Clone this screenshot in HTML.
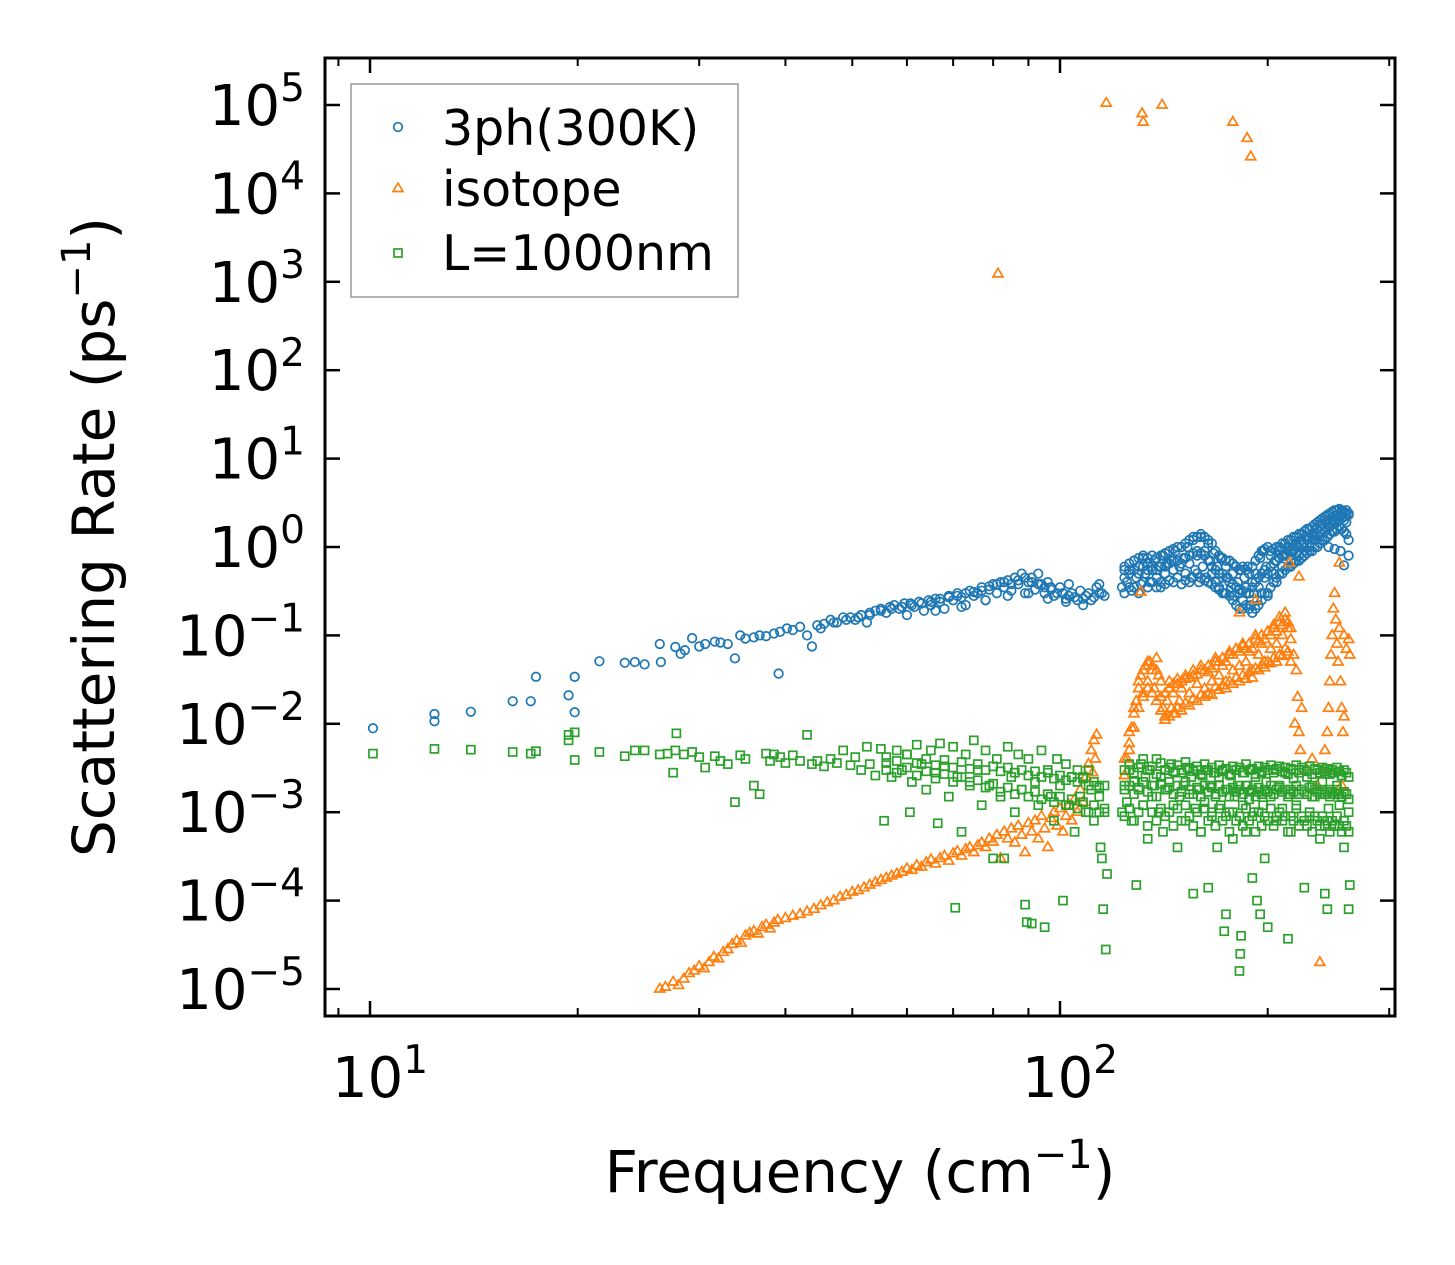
<!DOCTYPE html>
<html><head><meta charset="utf-8"><style>
html,body{margin:0;padding:0;background:#fff}
svg{display:block;font-family:"DejaVu Sans","Liberation Sans",sans-serif}
</style></head><body>
<svg id="chart" width="1455" height="1265" viewBox="0 0 1455 1265" xmlns="http://www.w3.org/2000/svg">
<rect width="1455" height="1265" fill="#fff"/>
<g id="marks"></g>
<g id="axes"></g>
<g id="legend">
<rect x="351" y="84" width="387" height="213" fill="#fff" fill-opacity="0.8" stroke="#999" stroke-width="1.5"/>
<circle cx="398" cy="127" r="4.3" fill="none" stroke="#1f77b4" stroke-width="1.7"/>
<text x="442" y="145" font-size="49">3ph(300K)</text>
<polygon points="398,183 403,191.5 393,191.5" fill="none" stroke="#ff7f0e" stroke-width="1.7"/>
<text x="442" y="206" font-size="49">isotope</text>
<rect x="394" y="249" width="8" height="8" fill="none" stroke="#2ca02c" stroke-width="1.7"/>
<text x="442" y="270" font-size="49">L=1000nm</text>
</g>
</svg>
<script>
const blueF=[10.1,12.4,12.4,14,16.1,17.1,17.4,19.4,19.8,19.8,21.5,23.4,24.2,25,26.3,26.4,27.7,28.2,28.6,29.3,30,30.6,31.6,32.2,33,33.8,34.4,35,36,36.7,37.5,38.5,39.1,39.3,40.2,41,42,43,43.7,44.5,45.5,46.5,47.5,48.5,49.7,50.5,51.5,52.5,53,54,55,56,56.7,57.5,58.5,59.5,60.7,61.5,62.5,63.5,64.5,65,66,67,68,69,70,71,72,73,74,75,76,77,78,79,80,81,82,83,84,85,86,87,88,89,90,91,92,93,94,95,96,97,98,100,101,102,103,104,106,107,109,110,112,113,114,115,116,
123,124,125,126,127,128,129,130,131,132,133,134,135,136,137,138,139,140,141,142,143,144,145,146,147,148,149,150,151,152,153,154,155,156,157,158,159,160,161,162,163,164,165,166,167,168,169,170,171,172,173,174,175,176,177,178,179,180,181,182,183,184,185,186,187,188,189,190,191,192,193,194,195,196,197,198,199,200,202,204,205,206,208,210,212,214,216,218,220,222,224,226,228,230,232,234,236,238,240,242,244,246,248,250,252,254,256,258,260,262,255,258,250,245,
45,47,49,51,53,55,57,59,61,63,65,67,69,71,73,75,77,79,81,83,85,87,89,91,93,95,97,99,101,103,105,108,111,114,60,66,72,78,84,90,96,102,108];
const blueV=[.0089,.0129,.0107,.0137,.018,.018,.034,.021,.034,.0135,.051,.049,.05,.047,.08,.05,.074,.062,.068,.093,.075,.08,.085,.083,.08,.055,.1,.092,.095,.1,.098,.105,.037,.11,.12,.115,.125,.1,.075,.13,.135,.15,.14,.16,.16,.15,.17,.14,.18,.19,.2,.18,.21,.22,.2,.23,.23,.21,.24,.19,.25,.22,.26,.24,.2,.28,.25,.3,.27,.22,.32,.28,.3,.35,.25,.33,.38,.3,.4,.35,.42,.32,.45,.38,.5,.3,.4,.45,.33,.5,.38,.3,.4,.35,.28,.35,.3,.26,.38,.3,.25,.32,.28,.3,.27,.35,.38,.3,.28,
.35,.6,.4,.55,.32,.7,.45,.6,.38,.75,.5,.65,.4,.55,.7,.45,.6,.35,.8,.5,.65,.42,.7,.55,.9,.45,.6,.38,.75,.5,1.0,.65,.45,1.2,.55,.8,.4,1.3,.6,.9,.45,1.1,.7,.5,.85,.4,.6,.35,.75,.5,.3,.6,.45,.7,.35,.5,.28,.6,.4,.3,.55,.25,.45,.35,.6,.3,.22,.4,.3,.5,.25,.35,.75,.3,.9,.45,.6,.3,.8,.5,.7,.4,.9,.6,.85,1.0,.7,.9,1.1,.8,1.2,.9,1.3,1.0,1.4,1.2,1.6,1.3,1.8,1.5,2.0,1.7,2.2,1.9,2.3,2.0,2.5,2.2,2.6,2.4,.9,.62,.95,1.0,
.12,.14,.15,.16,.17,.19,.2,.21,.22,.23,.24,.26,.27,.28,.3,.31,.32,.36,.38,.4,.38,.42,.45,.4,.38,.35,.33,.3,.3,.28,.27,.26,.25,.3,.17,.19,.21,.25,.28,.3,.26,.24,.22];
const band2F=[124,126,128,130,132,134,136,138,140,142,144,146,148,150,152,154,156,158,160,162,164,166,168,170,172,174,176,178,180,182,184,186,188,190,192,194,196,198,200,202,204,206,208,210,212,214,216,218,220,222,224,226,228,230,232,234,236,238,240,242,244,246,248,250,252,254,256,258,260,262];
const blueUpperV=[.55,.65,.7,.75,.8,.75,.8,.75,.8,.85,.9,.95,1.0,1.0,1.1,1.2,1.3,1.3,1.4,1.3,1.2,1.1,.9,.8,.75,.7,.7,.65,.6,.55,.6,.55,.5,.6,.7,.8,.9,.95,1.0,.9,.95,1.0,1.0,1.1,1.1,1.2,1.2,1.3,1.3,1.4,1.4,1.5,1.6,1.6,1.7,1.8,1.9,2.0,2.1,2.2,2.3,2.4,2.5,2.6,2.6,2.7,2.6,2.5,2.4,2.3];
const blueMidV=[.45,.5,.55,.5,.6,.55,.6,.55,.6,.6,.65,.7,.7,.65,.75,.8,.85,.9,.85,.8,.7,.6,.55,.5,.45,.45,.4,.38,.35,.33,.32,.3,.3,.35,.4,.45,.5,.55,.5,.6,.65,.7,.75,.8,.8,.9,.9,.95,1.0,1.0,1.05,1.1,1.2,1.25,1.3,1.35,1.4,1.5,1.6,1.7,1.8,1.9,2.0,2.0,2.1,2.2,2.1,2.0,1.9,1.2];
const blueLowerV=[.3,.35,.35,.3,.4,.35,.4,.35,.4,.38,.42,.4,.45,.38,.42,.4,.45,.5,.45,.42,.4,.38,.35,.33,.3,.3,.28,.25,.22,.2,.2,.22,.2,.18,.2,.22,.25,.3,.28,.35,.4,.45,.5,.5,.55,.6,.6,.65,.7,.7,.75,.8,.85,.9,.9,1.0,1.0,1.1,1.2,1.2,1.3,1.4,1.5,1.5,1.6,1.7,1.6,1.5,1.4,.8];
const greenUpperV=[3e-3,3.5e-3,2.8e-3,3.2e-3,4e-3,3e-3,3.3e-3,2.7e-3,3.6e-3,3e-3,3.2e-3,2.9e-3,3.4e-3,2.8e-3,3.7e-3,3.1e-3,2.9e-3,3.3e-3,2.7e-3,3.5e-3,3e-3,3.2e-3,2.8e-3,3.4e-3,2.9e-3,3.1e-3,2.7e-3,3.3e-3,3e-3,3.2e-3,2.8e-3,3.5e-3,3e-3,3.1e-3,2.7e-3,3.3e-3,2.9e-3,3.2e-3,3e-3,3.4e-3,2.8e-3,3.1e-3,3.3e-3,2.9e-3,3.2e-3,2.7e-3,3.1e-3,3e-3,3.4e-3,2.8e-3,3.2e-3,3e-3,2.9e-3,3.3e-3,2.7e-3,3.1e-3,3e-3,2.8e-3,3.2e-3,2.9e-3,3.1e-3,2.7e-3,3e-3,2.8e-3,3.2e-3,2.9e-3,2.6e-3,3e-3,2.8e-3,2.5e-3];
const greenMidV=[1.8e-3,2e-3,1.6e-3,1.9e-3,2.2e-3,1.7e-3,2e-3,1.5e-3,2.1e-3,1.8e-3,1.9e-3,1.6e-3,2e-3,1.7e-3,2.2e-3,1.8e-3,1.6e-3,1.9e-3,1.5e-3,2e-3,1.7e-3,1.9e-3,1.6e-3,2e-3,1.7e-3,1.8e-3,1.5e-3,1.9e-3,1.7e-3,1.8e-3,1.6e-3,2e-3,1.7e-3,1.8e-3,1.5e-3,1.9e-3,1.6e-3,1.8e-3,1.7e-3,2e-3,1.6e-3,1.8e-3,1.9e-3,1.7e-3,1.8e-3,1.5e-3,1.8e-3,1.7e-3,2e-3,1.6e-3,1.8e-3,1.7e-3,1.6e-3,1.9e-3,1.5e-3,1.8e-3,1.7e-3,1.6e-3,1.8e-3,1.6e-3,1.7e-3,1.5e-3,1.7e-3,1.6e-3,1.8e-3,1.6e-3,1.5e-3,1.7e-3,1.6e-3,1.4e-3];
const greenLowV=[9e-4,1.1e-3,8e-4,1e-3,1.2e-3,7e-4,1e-3,8e-4,1.1e-3,9e-4,1e-3,7e-4,1.1e-3,8e-4,1.2e-3,9e-4,7e-4,1e-3,6e-4,1.1e-3,8e-4,1e-3,7e-4,1.1e-3,8e-4,9e-4,6e-4,1e-3,8e-4,9e-4,7e-4,1.1e-3,8e-4,9e-4,6e-4,1e-3,7e-4,9e-4,8e-4,1.1e-3,7e-4,9e-4,1e-3,8e-4,9e-4,6e-4,9e-4,8e-4,1.1e-3,7e-4,9e-4,8e-4,7e-4,1e-3,6e-4,9e-4,8e-4,7e-4,9e-4,7e-4,8e-4,6e-4,8e-4,7e-4,9e-4,7e-4,6e-4,8e-4,7e-4,6e-4];
const greenBand1F=[56,58,60,62,64,66,68,70,72,74,76,78,80,82,84,86,88,90,92,94,96,98,100,102,104,106,108,110,112,114,116];
const greenBand1UpperV=[4.2e-3,3.8e-3,4.5e-3,3.6e-3,4e-3,3.4e-3,3.9e-3,3.2e-3,3.7e-3,3.1e-3,3.5e-3,3e-3,3.3e-3,2.9e-3,3.2e-3,2.8e-3,3e-3,2.6e-3,2.9e-3,2.5e-3,2.8e-3,2.4e-3,2.6e-3,2.3e-3,2.5e-3,2.2e-3,2.4e-3,2e-3,2.2e-3,1.9e-3,2e-3];
const greenBand1LowerV=[3e-3,2.8e-3,3.2e-3,2.6e-3,2.9e-3,2.4e-3,2.7e-3,2.2e-3,2.5e-3,2e-3,2.3e-3,1.9e-3,2.1e-3,1.7e-3,1.9e-3,1.6e-3,1.8e-3,1.5e-3,1.7e-3,1.4e-3,1.6e-3,1.3e-3,1.5e-3,1.2e-3,1.4e-3,1.1e-3,1.3e-3,1e-3,1.2e-3,1e-3,1.1e-3];
const orangeBandF=[124,126,128,130,132,134,136,138,140,142,144,146,148,150,152,154,156,158,160,162,164,166,168,170,172,174,176,178,180,182,184,186,188,190,192,194,196,198,200,202,204,206,208,210,212,214,216];
const orangeUpperV=[4e-3,8e-3,1.5e-2,3e-2,4e-2,5e-2,4.5e-2,4e-2,3e-2,2.2e-2,3e-2,2.8e-2,3.2e-2,3e-2,3.5e-2,3.3e-2,4e-2,3.6e-2,4.5e-2,4e-2,4.5e-2,4.2e-2,5.5e-2,5e-2,5.5e-2,5e-2,6.5e-2,6e-2,7e-2,6.5e-2,7.5e-2,7e-2,8e-2,7e-2,9e-2,8.5e-2,1e-1,9e-2,1.1e-1,1e-1,1.2e-1,1.1e-1,1.4e-1,1.3e-1,1.5e-1,1.4e-1,1.2e-1];
const orangeLowerV=[2.6e-3,5e-3,9e-3,1.5e-2,2e-2,2.5e-2,2.2e-2,1.8e-2,1.4e-2,1.1e-2,1.2e-2,1.3e-2,1.5e-2,1.4e-2,1.7e-2,1.6e-2,1.9e-2,1.8e-2,2.1e-2,2e-2,2.2e-2,2.1e-2,2.6e-2,2.4e-2,2.7e-2,2.5e-2,3e-2,2.8e-2,3.3e-2,3e-2,3.5e-2,3.2e-2,3.8e-2,3.3e-2,4.2e-2,4e-2,4.6e-2,4.3e-2,5e-2,4.8e-2,5.5e-2,5e-2,6e-2,5.8e-2,7e-2,6.5e-2,5e-2];
const orangeF=[81.3,116.7,131.5,132,140.6,178,186.7,189,131,182,192,215,222,254,
26.3,26.8,27.5,28,28.5,29,29.5,30,30.5,31,31.5,32,32.5,33,33.5,34,34.5,35,35.5,36,36.5,37,37.5,38,38.5,39,40,41,42,43,44,45,46,47,48,49,50,51,52,53,54,55,56,57,58,59,60,61,62,63,64,65,66,67,68,69,70,71,72,73,74,75,76,77,78,79,80,81,82,83,84,85,86,87,88,89,90,91,92,93,94,95,96,97,98,99,100,101,102,103,104,105,106,107,108,109,110,111,112,113,112.5,111.5,
124,125,126,127,128,129,130,131,132,133,134,135,136,137,138,139,140,141,142,143,144,145,146,147,148,149,150,152,154,156,158,160,162,164,166,168,170,172,174,176,178,180,182,184,186,188,190,192,194,196,198,200,202,204,206,208,210,212,214,216,218,219,220,221,222,223,224,228,232,236,238,240,242,244,245,246,247,248,249,250,251,252,253,254,255,256,257,258,260,262,263,258,256];
const orangeV=[1230,1.05e5,8e4,6.4e4,1.0e5,6.4e4,4.2e4,2.6e4,.31,.18,.25,.66,.46,.66,
1e-5,1.05e-5,1.2e-5,1.1e-5,1.3e-5,1.5e-5,1.6e-5,1.8e-5,1.7e-5,2e-5,2.3e-5,2.2e-5,2.6e-5,2.8e-5,3.2e-5,3.5e-5,3.3e-5,4e-5,4.3e-5,4.5e-5,4.2e-5,5e-5,5.3e-5,4.8e-5,5.6e-5,6e-5,6.3e-5,6.7e-5,7e-5,7.5e-5,8e-5,8.8e-5,9.5e-5,1e-4,1.1e-4,1.15e-4,1.25e-4,1.3e-4,1.4e-4,1.5e-4,1.6e-4,1.7e-4,1.8e-4,1.9e-4,2e-4,2.1e-4,2.3e-4,2.2e-4,2.5e-4,2.4e-4,2.7e-4,2.9e-4,2.6e-4,3e-4,3.2e-4,2.8e-4,3.4e-4,3.6e-4,3.2e-4,3.8e-4,4e-4,3.5e-4,4.2e-4,4.5e-4,4e-4,5e-4,4.6e-4,5.5e-4,3e-4,6e-4,5e-4,6.5e-4,4.5e-4,7e-4,5.5e-4,3.5e-4,7.5e-4,6e-4,8e-4,5e-4,9e-4,6.5e-4,4e-4,8.5e-4,1e-3,7e-4,1.1e-3,6e-4,9e-4,1.2e-3,8e-4,1.4e-3,1e-3,1.8e-3,1.3e-3,2.5e-3,3.5e-3,5e-3,6.5e-3,7.5e-3,4e-3,2.8e-3,
2.6e-3,4e-3,6e-3,9e-3,1.3e-2,1.8e-2,2.5e-2,3.5e-2,2.2e-2,4.5e-2,3e-2,5e-2,4e-2,2.5e-2,5.5e-2,3.5e-2,2e-2,1.5e-2,1.2e-2,1.8e-2,2.5e-2,1.5e-2,2.2e-2,1.3e-2,2.8e-2,1.8e-2,2.5e-2,3.2e-2,2.2e-2,3.5e-2,2.8e-2,4e-2,2.5e-2,3.8e-2,3e-2,5e-2,3.5e-2,4.5e-2,3e-2,6e-2,4e-2,7e-2,4.5e-2,8e-2,5e-2,6.5e-2,4e-2,1e-1,6e-2,8e-2,5e-2,1.1e-1,7e-2,1.3e-1,8e-2,1.6e-1,1e-1,1.8e-1,1.2e-1,9e-2,6e-2,1e-2,4e-2,2e-2,8e-3,5e-3,1.5e-2,3e-3,4e-3,2e-3,2e-5,3e-3,5e-3,8e-3,1.5e-2,3e-2,6e-2,1e-1,2e-1,3e-1,1.5e-1,8e-2,5e-2,1.2e-1,3e-2,1.5e-2,8e-3,1e-1,7e-2,9e-2,6e-2,1.2e-2,2e-3];
const greenF=[10.1,12.4,14,16.1,17.1,17.4,19.4,19.4,19.8,19.8,21.5,23.4,24.2,25,26.3,27,27.7,27.8,27.5,28.5,29.3,30,30.6,31.6,32.2,33,33.8,34.4,35,36,36.7,37.5,38,38.5,39.3,40,41,42,43,43.7,44.5,45.5,46.5,47.5,48.5,49.7,50.5,51.5,52.5,53,54,55,55.6,56,57,58,59,60,60.6,61,62,63,64,65,66,66.5,67,68,69,70,70.5,71,72,73,74,75,76,77,78,79,80,81,82,83,84,85,86,87,88,89,89.5,90,91,92,93,94,95,96,97,98,99,100,101,102,103,104,105,106,107,108,109,110,111,112,113,114,115,115.5,116,116.5,117,114.5,
123,124,125,126,127,128,129,130,131,132,133,134,135,136,137,138,139,140,141,142,143,144,145,146,147,148,149,150,151,152,153,154,155,156,157,158,159,160,161,162,163,164,165,166,167,168,169,170,171,172,173,174,175,176,177,178,179,180,181,182,182.5,183,184,185,186,187,188,189,190,191,192,193,194,195,196,197,198,199,200,202,204,206,208,210,212,214,215,216,218,220,222,224,226,228,230,232,234,236,238,240,242,244,245,246,248,250,252,254,256,258,260,262,263,262];
const greenV=[4.6e-3,5.2e-3,5.1e-3,4.8e-3,4.6e-3,4.9e-3,7.5e-3,6.5e-3,8e-3,3.9e-3,4.8e-3,4.3e-3,5e-3,5e-3,4.5e-3,4.6e-3,5e-3,7.8e-3,2.8e-3,4.5e-3,4.8e-3,4.2e-3,3.2e-3,4.3e-3,3.8e-3,3.5e-3,1.3e-3,4.4e-3,4e-3,2e-3,1.6e-3,4.6e-3,3.8e-3,4.5e-3,4.2e-3,3.6e-3,4.4e-3,3.8e-3,7.5e-3,3.5e-3,3.8e-3,3.3e-3,4e-3,3.6e-3,5e-3,3.4e-3,4.2e-3,3e-3,5.5e-3,3.5e-3,2.6e-3,5.2e-3,8e-4,3.6e-3,2.5e-3,5e-3,3e-3,4.5e-3,1e-3,2.2e-3,5.8e-3,3.5e-3,1.8e-3,5e-3,2.8e-3,7.5e-4,6e-3,3.3e-3,1.5e-3,5.5e-3,8.3e-5,2.5e-3,6e-4,4.5e-3,2.2e-3,6.5e-3,3e-3,1.2e-3,5e-3,2e-3,3e-4,4e-3,1.5e-3,3e-4,5.5e-3,2.5e-3,1e-3,4.5e-3,1.8e-3,9e-5,5.7e-5,4e-3,5.5e-5,2.2e-3,1.2e-3,5e-3,5e-5,3e-3,1.5e-3,8e-4,4e-3,2e-3,1e-4,3.5e-3,1.2e-3,2.5e-3,6e-4,3e-3,1.5e-3,2.5e-3,1e-3,3e-3,1.8e-3,8e-4,2e-3,1.5e-3,3e-4,8e-5,1e-3,2.8e-5,2e-4,4e-4,
1e-3,2e-3,1.3e-3,3e-3,8e-4,2.2e-3,1.5e-4,1.8e-3,3.5e-3,1.2e-3,2.5e-3,5e-4,3e-3,1.5e-3,2e-3,4e-3,1e-3,2.5e-3,6e-4,3e-3,1.8e-3,2.2e-3,3.5e-3,1.2e-3,2.8e-3,4e-4,1.5e-3,3e-3,2e-3,8e-4,3.2e-3,1.6e-3,2.5e-3,1.2e-4,1.1e-3,3e-3,1.8e-3,6e-4,2.6e-3,1.3e-3,3e-3,1.4e-4,2e-3,9e-4,2.8e-3,1.5e-3,4e-4,2.5e-3,1.2e-3,3e-3,4.5e-5,7e-5,1.8e-3,1e-3,2.6e-3,5e-4,1.5e-3,3e-3,2e-3,1.6e-5,2.5e-5,4e-5,1.2e-3,2.8e-3,6e-4,2e-3,1.4e-3,3e-3,1.8e-4,1e-3,2.5e-3,1e-4,1.7e-3,7e-5,2.8e-3,1.2e-3,3e-4,2.2e-3,5e-5,1.5e-3,3e-3,8e-4,2e-3,1.1e-3,2.8e-3,3.7e-5,1.6e-3,6e-4,2.4e-3,1.2e-3,3e-3,1.8e-3,1.4e-4,2.5e-3,9e-4,2e-3,1.5e-3,3e-3,5e-4,2.2e-3,1.2e-4,8e-5,1.1e-3,1.8e-3,2.8e-3,7e-4,2e-3,1.2e-3,2.6e-3,4e-4,1.6e-3,1e-3,1.5e-4,8e-5];
const yTickExps=[-5,-4,-3,-2,-1,0,1,2,3,4,5];
const xTickExps=[1,2];
const xMinor=[9,20,30,40,50,60,70,80,90,200,300];

const NS="http://www.w3.org/2000/svg";
const L=325,R=1395,T=58,B=1016;
function sx(f){return 370+690*(Math.log10(f)-1);}
function sy(v){return 105+88.4*(5-Math.log10(v));}
function mk(tag,attrs,parent){const e=document.createElementNS(NS,tag);for(const k in attrs)e.setAttribute(k,attrs[k]);parent.appendChild(e);return e;}
const marks=document.getElementById('marks'),axes=document.getElementById('axes');
const cp=mk('clipPath',{id:'clip'},document.getElementById('chart'));
mk('rect',{x:L,y:T,width:R-L,height:B-T},cp);
marks.setAttribute('clip-path','url(#clip)');
function circ(f,v){
 const c=mk('circle',{cx:sx(f),cy:sy(v),r:4.3,fill:'none',stroke:'#1f77b4','stroke-width':1.7},marks);
 
 
}
function tri(f,v){
 const x=sx(f),y=sy(v);
 const p=mk('polygon',{points:`${x},${y-5.5} ${x+5},${y+3} ${x-5},${y+3}`,fill:'none',stroke:'#ff7f0e','stroke-width':1.7},marks);
 
 
}
function sq(f,v){
 const x=sx(f),y=sy(v);
 const s=mk('rect',{x:x-4,y:y-4,width:8,height:8,fill:'none',stroke:'#2ca02c','stroke-width':1.7},marks);
 
 
}
function each(F,V,fn){const n=Math.min(F.length,V.length);for(let i=0;i<n;i++)fn(F[i],V[i]);}
each(blueF,blueV,circ);
each(band2F,blueUpperV,circ);
each(band2F,blueMidV,circ);
each(band2F,blueLowerV,circ);
each(orangeF,orangeV,tri);
each(orangeBandF,orangeUpperV,tri);
each(orangeBandF,orangeLowerV,tri);
each(greenF,greenV,sq);
each(band2F,greenUpperV,sq);
each(band2F,greenMidV,sq);
each(band2F,greenLowV,sq);
each(greenBand1F,greenBand1UpperV,sq);
each(greenBand1F,greenBand1LowerV,sq);
const fr=mk('rect',{x:L,y:T,width:R-L,height:B-T,fill:'none',stroke:'#000','stroke-width':3},axes);


yTickExps.forEach(e=>{
 const y=sy(Math.pow(10,e));
 mk('line',{x1:L,x2:L+15,y1:y,y2:y,stroke:'#000','stroke-width':2.5},axes);
 mk('line',{x1:R,x2:R-15,y1:y,y2:y,stroke:'#000','stroke-width':2.5},axes);
 const t=mk('text',{x:305,y:y+20,'font-size':56,'text-anchor':'end'},axes);
 
 
 const es=e<0?'\u2212'+(-e):''+e;
 t.innerHTML='10<tspan dy="-24" font-size="39">'+es+'</tspan>';
});
xTickExps.forEach(e=>{
 const x=sx(Math.pow(10,e));
 mk('line',{x1:x,x2:x,y1:B,y2:B-15,stroke:'#000','stroke-width':2.5},axes);
 mk('line',{x1:x,x2:x,y1:T,y2:T+15,stroke:'#000','stroke-width':2.5},axes);
 const t=mk('text',{x:x+10,y:1097,'font-size':56,'text-anchor':'middle'},axes);
 
 
 t.innerHTML='10<tspan dy="-24" font-size="39">'+e+'</tspan>';
});
xMinor.forEach(m=>{
 const x=sx(m);
 mk('line',{x1:x,x2:x,y1:B,y2:B-8,stroke:'#000','stroke-width':2},axes);
 mk('line',{x1:x,x2:x,y1:T,y2:T+8,stroke:'#000','stroke-width':2},axes);
});
const xl=mk('text',{x:860,y:1192,'font-size':58,'text-anchor':'middle'},axes);


xl.innerHTML='Frequency (cm<tspan dy="-24" font-size="40">\u22121</tspan><tspan dy="24">)</tspan>';
const yl=mk('text',{x:0,y:0,'font-size':58,'text-anchor':'middle',transform:'translate(114,537) rotate(-90)'},axes);


yl.innerHTML='Scattering Rate (ps<tspan dy="-24" font-size="40">\u22121</tspan><tspan dy="24">)</tspan>';
</script>
</body></html>
